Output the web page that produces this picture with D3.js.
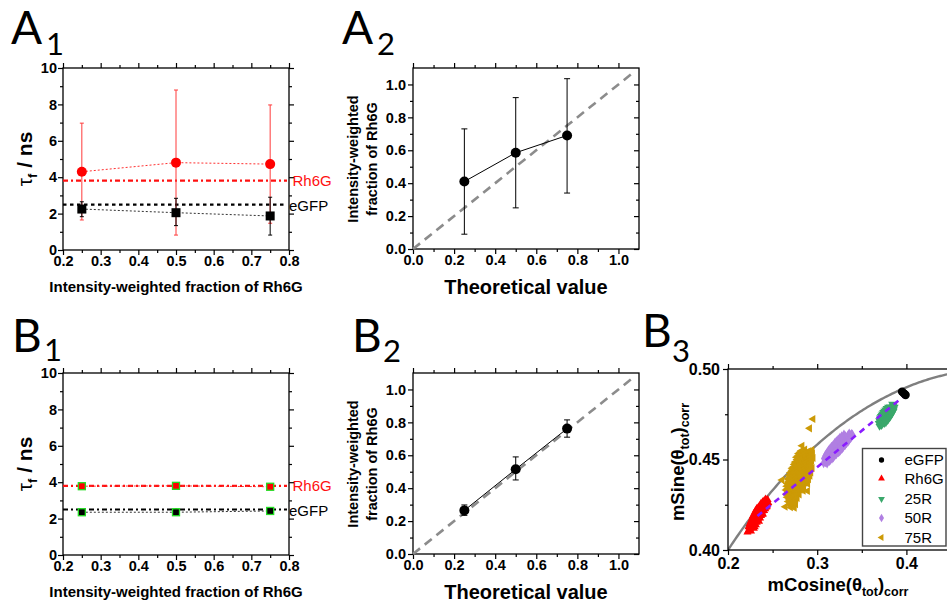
<!DOCTYPE html>
<html>
<head>
<meta charset="utf-8">
<script src="https://cdn.jsdelivr.net/npm/d3@7"></script>
<style>
  html, body { margin: 0; padding: 0; background: #fff; }
  svg { display: block; }
</style>
</head>
<body>
<script>
// ---------- data ----------
// fraction of Rh6G in the mixtures
const mixFraction = [0.25, 0.5, 0.75];

// A1: fitted lifetimes (ns) with error limits
const a1Rh6G   = [4.30, 4.80, 4.72];
const a1Rh6GLo = [1.65, 0.82, 1.47];
const a1Rh6GHi = [6.97, 8.79, 7.97];
const a1EGFP   = [2.25, 2.05, 1.87];
const a1EGFPLo = [1.83, 1.34, 0.82];
const a1EGFPHi = [2.65, 2.84, 2.90];
const a1RefRh6G = 3.81;
const a1RefEGFP = 2.49;

// B1: fitted lifetimes (ns) with error limits
const b1Rh6G   = [3.78, 3.80, 3.75];
const b1Rh6GLo = [3.68, 3.68, 3.60];
const b1Rh6GHi = [3.88, 3.92, 3.90];
const b1EGFP   = [2.35, 2.35, 2.42];
const b1EGFPLo = [2.27, 2.25, 2.27];
const b1EGFPHi = [2.43, 2.45, 2.57];
const b1RefRh6G = 3.80;
const b1RefEGFP = 2.50;

// A2 / B2: recovered intensity-weighted fraction vs theoretical value
const a2Frac   = [0.41, 0.585, 0.69];
const a2FracLo = [0.09, 0.25, 0.34];
const a2FracHi = [0.73, 0.92, 1.035];
const b2Frac   = [0.265, 0.515, 0.762];
const b2FracLo = [0.235, 0.45, 0.71];
const b2FracHi = [0.298, 0.59, 0.815];
const identityEnd = 1.06;

// B3: phasor clouds [mCosine, mSine]
const phEGFP = [[0.3951,0.4875],[0.3965,0.4868],[0.3980,0.4862],[0.3991,0.4856]];
const phRh6G = [
  [0.2218,0.4098],[0.2236,0.4112],[0.2258,0.4104],
  [0.2230,0.4128],[0.2251,0.4122],[0.2274,0.4131],[0.2290,0.4119],
  [0.2243,0.4146],[0.2266,0.4141],[0.2289,0.4150],[0.2313,0.4139],
  [0.2260,0.4163],[0.2283,0.4170],[0.2306,0.4160],[0.2331,0.4168],[0.2348,0.4158],
  [0.2279,0.4188],[0.2302,0.4180],[0.2328,0.4191],[0.2352,0.4182],[0.2371,0.4189],
  [0.2298,0.4206],[0.2324,0.4211],[0.2347,0.4201],[0.2376,0.4209],[0.2392,0.4198],
  [0.2322,0.4228],[0.2349,0.4222],[0.2374,0.4230],[0.2398,0.4219],[0.2418,0.4227],
  [0.2353,0.4243],[0.2377,0.4249],[0.2401,0.4240],[0.2424,0.4251],[0.2438,0.4242],
  [0.2388,0.4266],[0.2410,0.4260],[0.2433,0.4268],[0.2452,0.4262],
  [0.2420,0.4281],[0.2444,0.4278],
  [0.2228,0.4105],[0.2247,0.4116],
  [0.2240,0.4135],[0.2262,0.4134],[0.2282,0.4136],[0.2300,0.4128],
  [0.2254,0.4155],[0.2277,0.4156],[0.2300,0.4154],[0.2322,0.4152],
  [0.2270,0.4176],[0.2294,0.4175],[0.2318,0.4177],[0.2340,0.4174],[0.2360,0.4176],
  [0.2290,0.4196],[0.2314,0.4195],[0.2338,0.4197],[0.2363,0.4194],[0.2382,0.4196],
  [0.2310,0.4218],[0.2336,0.4216],[0.2360,0.4218],[0.2386,0.4215],[0.2405,0.4217],
  [0.2340,0.4236],[0.2364,0.4235],[0.2389,0.4237],[0.2412,0.4234],[0.2430,0.4236],
  [0.2370,0.4257],[0.2398,0.4255],[0.2421,0.4257],[0.2444,0.4256],
  [0.2405,0.4272],[0.2431,0.4274]
];
const ph25R = [
  [0.3699,0.4684],[0.3719,0.4688],
  [0.3701,0.4702],[0.3717,0.4697],[0.3739,0.4703],
  [0.3711,0.4716],[0.3733,0.4712],[0.3751,0.4718],[0.3769,0.4713],
  [0.3727,0.4731],[0.3751,0.4727],[0.3769,0.4733],[0.3789,0.4728],
  [0.3747,0.4746],[0.3769,0.4742],[0.3791,0.4748],[0.3807,0.4743],
  [0.3767,0.4761],[0.3791,0.4757],[0.3809,0.4763],[0.3824,0.4758],
  [0.3789,0.4776],[0.3813,0.4772],[0.3831,0.4778],[0.3844,0.4773],
  [0.3816,0.4791],[0.3835,0.4788],[0.3854,0.4792],
  [0.3841,0.4806],[0.3858,0.4803],
  [0.3709,0.4693],[0.3728,0.4694],
  [0.3720,0.4708],[0.3742,0.4707],[0.3760,0.4709],
  [0.3738,0.4722],[0.3760,0.4721],[0.3780,0.4723],
  [0.3758,0.4737],[0.3780,0.4736],[0.3798,0.4738],
  [0.3778,0.4752],[0.3800,0.4751],[0.3816,0.4753],
  [0.3800,0.4767],[0.3822,0.4766],[0.3836,0.4768],
  [0.3824,0.4782],[0.3845,0.4783],
  [0.3848,0.4797],
  [0.3690,0.4700],[0.3752,0.4699],
  [0.3695,0.4715],[0.3785,0.4716],
  [0.3705,0.4730],[0.3808,0.4731],
  [0.3722,0.4745],[0.3828,0.4746],
  [0.3740,0.4760],[0.3845,0.4761],
  [0.3765,0.4775],[0.3858,0.4776],
  [0.3795,0.4790],[0.3868,0.4789],
  [0.3714,0.4738],[0.3731,0.4752],[0.3752,0.4767],[0.3778,0.4783],
  [0.3770,0.4704],[0.3796,0.4720],[0.3818,0.4735],[0.3838,0.4752],[0.3856,0.4767]
];
const ph50R = [
  [0.3072,0.4480],[0.3093,0.4485],[0.3111,0.4479],
  [0.3086,0.4502],[0.3104,0.4497],[0.3127,0.4503],[0.3146,0.4498],
  [0.3109,0.4519],[0.3133,0.4514],[0.3156,0.4521],[0.3177,0.4515],
  [0.3139,0.4538],[0.3166,0.4533],[0.3187,0.4539],[0.3211,0.4534],[0.3226,0.4540],
  [0.3171,0.4556],[0.3199,0.4551],[0.3219,0.4557],[0.3245,0.4552],[0.3261,0.4558],
  [0.3206,0.4574],[0.3229,0.4569],[0.3256,0.4575],[0.3277,0.4570],[0.3293,0.4576],
  [0.3241,0.4592],[0.3266,0.4587],[0.3287,0.4593],[0.3313,0.4588],[0.3326,0.4594],
  [0.3279,0.4610],[0.3301,0.4605],[0.3321,0.4611],[0.3346,0.4606],
  [0.3317,0.4628],[0.3341,0.4623],[0.3363,0.4629],[0.3377,0.4624],
  [0.3359,0.4643],[0.3384,0.4640],
  [0.3082,0.4491],[0.3116,0.4490],[0.3136,0.4492],
  [0.3098,0.4510],[0.3120,0.4509],[0.3142,0.4511],[0.3165,0.4510],
  [0.3124,0.4528],[0.3149,0.4527],[0.3172,0.4529],[0.3196,0.4528],
  [0.3155,0.4547],[0.3180,0.4546],[0.3205,0.4548],[0.3230,0.4547],[0.3248,0.4546],
  [0.3188,0.4565],[0.3212,0.4564],[0.3237,0.4566],[0.3262,0.4565],[0.3280,0.4564],
  [0.3222,0.4583],[0.3248,0.4582],[0.3272,0.4584],[0.3296,0.4583],[0.3312,0.4582],
  [0.3260,0.4601],[0.3284,0.4600],[0.3308,0.4602],[0.3333,0.4601],
  [0.3300,0.4619],[0.3328,0.4618],[0.3352,0.4620],
  [0.3348,0.4635],[0.3372,0.4634],
  [0.3075,0.4505],[0.3165,0.4504],
  [0.3090,0.4520],[0.3195,0.4521],
  [0.3115,0.4540],[0.3240,0.4541],
  [0.3145,0.4560],[0.3275,0.4559],
  [0.3180,0.4580],[0.3310,0.4579],
  [0.3215,0.4600],[0.3345,0.4599],
  [0.3255,0.4620],[0.3375,0.4619],
  [0.3300,0.4638],[0.3395,0.4637],
  [0.3103,0.4531],[0.3128,0.4550],[0.3160,0.4570],[0.3196,0.4590],[0.3236,0.4610],[0.3275,0.4628],
  [0.3180,0.4512],[0.3214,0.4530],[0.3258,0.4550],[0.3292,0.4570],[0.3328,0.4590],[0.3360,0.4610]
];
const ph75R = [
  [0.2822,0.4548],[0.2861,0.4555],[0.2903,0.4546],[0.2941,0.4553],
  [0.2791,0.4532],[0.2829,0.4526],[0.2872,0.4534],[0.2908,0.4527],[0.2948,0.4535],
  [0.2768,0.4512],[0.2806,0.4507],[0.2846,0.4514],[0.2884,0.4505],[0.2926,0.4513],[0.2954,0.4508],
  [0.2759,0.4488],[0.2796,0.4494],[0.2831,0.4486],[0.2869,0.4492],[0.2906,0.4485],[0.2939,0.4493],
  [0.2744,0.4472],[0.2781,0.4466],[0.2816,0.4474],[0.2851,0.4468],[0.2889,0.4475],[0.2931,0.4467],
  [0.2719,0.4452],[0.2756,0.4446],[0.2791,0.4454],[0.2829,0.4448],[0.2871,0.4455],[0.2904,0.4447],[0.2944,0.4453],
  [0.2701,0.4428],[0.2739,0.4434],[0.2776,0.4426],[0.2814,0.4433],[0.2856,0.4427],[0.2894,0.4435],[0.2929,0.4428],
  [0.2686,0.4412],[0.2724,0.4406],[0.2761,0.4414],[0.2801,0.4407],[0.2839,0.4413],[0.2881,0.4405],[0.2919,0.4411],
  [0.2674,0.4392],[0.2711,0.4386],[0.2749,0.4394],[0.2791,0.4387],[0.2829,0.4393],[0.2871,0.4386],[0.2904,0.4391],
  [0.2666,0.4368],[0.2701,0.4374],[0.2739,0.4366],[0.2781,0.4373],[0.2819,0.4367],[0.2861,0.4372],[0.2894,0.4366],
  [0.2659,0.4352],[0.2696,0.4346],[0.2736,0.4354],[0.2774,0.4347],[0.2816,0.4353],[0.2849,0.4346],
  [0.2651,0.4332],[0.2689,0.4326],[0.2731,0.4334],[0.2769,0.4327],[0.2809,0.4333],[0.2844,0.4328],
  [0.2656,0.4308],[0.2691,0.4313],[0.2724,0.4306],[0.2766,0.4312],[0.2799,0.4307],
  [0.2664,0.4291],[0.2701,0.4286],[0.2739,0.4292],[0.2776,0.4287],
  [0.2676,0.4268],[0.2709,0.4273],[0.2751,0.4267],
  [0.2689,0.4252],[0.2726,0.4247],[0.2759,0.4253],
  [0.2701,0.4236],[0.2744,0.4233],
  [0.2808,0.4540],[0.2848,0.4541],[0.2885,0.4540],[0.2926,0.4542],
  [0.2785,0.4520],[0.2826,0.4521],[0.2866,0.4519],[0.2905,0.4522],[0.2940,0.4520],
  [0.2775,0.4500],[0.2813,0.4501],[0.2851,0.4499],[0.2888,0.4502],[0.2922,0.4500],
  [0.2752,0.4480],[0.2799,0.4481],[0.2834,0.4479],[0.2870,0.4482],[0.2912,0.4480],
  [0.2738,0.4460],[0.2773,0.4461],[0.2810,0.4459],[0.2850,0.4462],[0.2888,0.4460],[0.2925,0.4461],
  [0.2720,0.4440],[0.2758,0.4441],[0.2795,0.4439],[0.2835,0.4442],[0.2875,0.4440],[0.2912,0.4441],
  [0.2705,0.4420],[0.2742,0.4421],[0.2781,0.4419],[0.2820,0.4422],[0.2860,0.4420],[0.2900,0.4421],
  [0.2692,0.4400],[0.2730,0.4401],[0.2770,0.4399],[0.2810,0.4402],[0.2850,0.4400],[0.2888,0.4401],
  [0.2683,0.4380],[0.2720,0.4381],[0.2760,0.4379],[0.2800,0.4382],[0.2840,0.4380],[0.2878,0.4381],
  [0.2678,0.4360],[0.2716,0.4361],[0.2755,0.4359],[0.2795,0.4362],[0.2832,0.4360],
  [0.2670,0.4340],[0.2710,0.4341],[0.2750,0.4339],[0.2790,0.4342],[0.2826,0.4340],
  [0.2672,0.4320],[0.2708,0.4321],[0.2745,0.4319],[0.2783,0.4322],
  [0.2682,0.4300],[0.2720,0.4298],[0.2756,0.4300],
  [0.2690,0.4280],[0.2725,0.4279],[0.2760,0.4281],
  [0.2700,0.4260],[0.2740,0.4261],
  [0.2953,0.4724],[0.2915,0.4672],[0.2830,0.4576],[0.2605,0.4387],[0.2642,0.4239],[0.2892,0.4326]
];
// two-component mixing line, Rh6G -> eGFP
const mixLine = [[0.2330, 0.4188], [0.3988, 0.4856]];
const legendNames = ["eGFP", "Rh6G", "25R", "50R", "75R"];

// tick values
const ticksFracMajor = [0.2, 0.3, 0.4, 0.5, 0.6, 0.7, 0.8];
const ticksFracMinor = [0.25, 0.35, 0.45, 0.55, 0.65, 0.75];
const ticksTauMajor  = [0, 2, 4, 6, 8, 10];
const ticksTauMinor  = [1, 3, 5, 7, 9];
const ticksUnitMajor = [0.0, 0.2, 0.4, 0.6, 0.8, 1.0];
const ticksUnitMinor = [0.1, 0.3, 0.5, 0.7, 0.9];
const ticksCosMajor  = [0.2, 0.3, 0.4];
const ticksCosMinor  = [0.25, 0.35, 0.45];
const ticksSinMajor  = [0.40, 0.45, 0.50];
const ticksSinMinor  = [0.425, 0.475];

// ---------- drawing ----------
const W = 947, H = 604;
const SANS = "'Liberation Sans', Arial, sans-serif";
const svg = d3.select("body").append("svg").attr("width", W).attr("height", H);
svg.append("rect").attr("width", W).attr("height", H).attr("fill", "#fff");

function drawFrame(g, x, y, o) {
  const [xl, xr] = x.range();
  const [yb, yt] = y.range();
  const M = 5, m = 3;
  function put(axisFn, scale, vals, size, pad, fmt, tr) {
    const a = axisFn(scale).tickValues(vals).tickSizeInner(size).tickSizeOuter(0)
      .tickPadding(pad).tickFormat(fmt || "");
    const s = g.append("g").attr("transform", tr).call(a);
    s.select(".domain").remove();
    s.selectAll("line").attr("stroke", "#000").attr("stroke-width", 1.2);
    s.selectAll("text").attr("font-family", SANS).attr("font-weight", "bold")
      .attr("font-size", o.fs).attr("fill", "#000");
    return s;
  }
  put(d3.axisBottom, x, o.xMinor, m, 0, null, `translate(0,${yb})`);
  put(d3.axisBottom, x, o.xMajor, M, o.xPad, o.xFmt, `translate(0,${yb})`);
  put(d3.axisTop, x, o.xMinor, m, 0, null, `translate(0,${yt})`);
  put(d3.axisTop, x, o.xMajor, M, 0, null, `translate(0,${yt})`);
  put(d3.axisLeft, y, o.yMinor, m, 0, null, `translate(${xl},0)`);
  put(d3.axisLeft, y, o.yMajor, M, o.yPad, o.yFmt, `translate(${xl},0)`);
  const rs = o.rightIn ? -1 : 1;
  put(d3.axisRight, y, o.yMinor, rs * m, 0, null, `translate(${xr},0)`);
  put(d3.axisRight, y, o.yMajor, rs * M, 0, null, `translate(${xr},0)`);
  g.append("rect").attr("x", xl).attr("y", yt).attr("width", xr - xl).attr("height", yb - yt)
    .attr("fill", "none").attr("stroke", "#000").attr("stroke-width", 1.3);
}

function panelLabel(letter, sub, x, y, subDx, subDy) {
  const t = svg.append("text").attr("x", x).attr("y", y)
    .attr("font-family", "Lato, 'Open Sans', sans-serif").attr("font-size", 46).attr("fill", "#000");
  t.append("tspan").text(letter);
  t.append("tspan").attr("x", x + subDx).attr("dy", subDy).attr("font-size", 31).text(sub);
}

function errorBars(g, x, y, xs, lo, hi, color, cap, width) {
  xs.forEach((v, i) => {
    g.append("line").attr("x1", x(v)).attr("x2", x(v)).attr("y1", y(lo[i])).attr("y2", y(hi[i]))
      .attr("stroke", color).attr("stroke-width", width);
    [lo[i], hi[i]].forEach(e => g.append("line")
      .attr("x1", x(v) - cap).attr("x2", x(v) + cap).attr("y1", y(e)).attr("y2", y(e))
      .attr("stroke", color).attr("stroke-width", width));
  });
}

function tauTitle(cx, cy) {
  const t = svg.append("text").attr("transform", `translate(${cx},${cy}) rotate(-90)`)
    .attr("text-anchor", "middle").attr("font-family", SANS).attr("font-size", 21).attr("fill", "#000");
  t.append("tspan").text("τ");
  t.append("tspan").attr("dy", 5).attr("font-size", 13).attr("font-weight", "bold").text("f");
  t.append("tspan").attr("dy", -5).attr("font-weight", "bold").text(" / ns");
}

function fracTitle(cx, cy) {
  const t = svg.append("text").attr("transform", `translate(${cx},${cy}) rotate(-90)`)
    .attr("text-anchor", "middle").attr("font-family", SANS).attr("font-weight", "bold")
    .attr("font-size", 14.5).attr("fill", "#000");
  t.append("tspan").attr("x", 0).attr("y", 0).text("Intensity-weighted");
  t.append("tspan").attr("x", 0).attr("y", 19).text("fraction of Rh6G");
}

function bottomTitle(text, cx, y, fs) {
  svg.append("text").attr("x", cx).attr("y", y).attr("text-anchor", "middle")
    .attr("font-family", SANS).attr("font-weight", "bold").attr("font-size", fs).attr("fill", "#000").text(text);
}

// ----- lifetime panels (A1, B1) -----
function lifetimePanel(top, d) {
  const g = svg.append("g");
  const x = d3.scaleLinear().domain([0.2, 0.8]).range([63, 289]);
  const y = d3.scaleLinear().domain([0, 10]).range([top + 182, top]);
  drawFrame(g, x, y, { xMajor: ticksFracMajor, xMinor: ticksFracMinor, yMajor: ticksTauMajor,
    yMinor: ticksTauMinor, xFmt: d3.format(".1f"), yFmt: d3.format("d"), fs: 14.5, xPad: 1, yPad: 1 });

  // reference lifetimes of the pure dyes
  g.append("line").attr("x1", 63).attr("x2", 287).attr("y1", y(d.refR)).attr("y2", y(d.refR))
    .attr("stroke", "#ff1010").attr("stroke-width", 2.2).attr("stroke-dasharray", "5,3,2,3");
  g.append("line").attr("x1", 63).attr("x2", 287).attr("y1", y(d.refE)).attr("y2", y(d.refE))
    .attr("stroke", "#000").attr("stroke-width", 2.2).attr("stroke-dasharray", d.eDash);
  svg.append("text").attr("x", 292.5).attr("y", y(d.refR)).attr("dy", "0.36em")
    .attr("font-family", SANS).attr("font-size", 15).attr("fill", "#ff1010").text("Rh6G");
  svg.append("text").attr("x", 289).attr("y", y(d.refE) + 1).attr("dy", "0.36em")
    .attr("font-family", SANS).attr("font-size", 15).attr("fill", "#000").text("eGFP");

  const line = d3.line().x((v, i) => x(mixFraction[i])).y(v => y(v));
  g.append("path").attr("d", line(d.r)).attr("fill", "none").attr("stroke", "#ff3030")
    .attr("stroke-width", 1).attr("stroke-dasharray", "2,2");
  g.append("path").attr("d", line(d.e)).attr("fill", "none").attr("stroke", "#333")
    .attr("stroke-width", 1).attr("stroke-dasharray", "2,2");

  errorBars(g, x, y, mixFraction, d.rLo, d.rHi, d.rErr, 2, 1);
  errorBars(g, x, y, mixFraction, d.eLo, d.eHi, "#000", 2, 1);

  if (d.style === "A") {
    g.selectAll(".pr").data(d.r).join("circle").attr("cx", (v, i) => x(mixFraction[i])).attr("cy", v => y(v))
      .attr("r", 5).attr("fill", "#ff0000");
    g.selectAll(".pe").data(d.e).join("rect").attr("x", (v, i) => x(mixFraction[i]) - 4.5)
      .attr("y", v => y(v) - 4.5).attr("width", 9).attr("height", 9).attr("fill", "#000");
  } else {
    g.selectAll(".pr").data(d.r).join("rect").attr("x", (v, i) => x(mixFraction[i]) - 3.5)
      .attr("y", v => y(v) - 3.5).attr("width", 7).attr("height", 7)
      .attr("fill", "#ff0000").attr("stroke", "#22dd22").attr("stroke-width", 1.3);
    g.selectAll(".pe").data(d.e).join("rect").attr("x", (v, i) => x(mixFraction[i]) - 3.5)
      .attr("y", v => y(v) - 3.5).attr("width", 7).attr("height", 7)
      .attr("fill", "#000").attr("stroke", "#22dd22").attr("stroke-width", 1.3);
  }
  tauTitle(32, top + 91);
}

lifetimePanel(68, { r: a1Rh6G, rLo: a1Rh6GLo, rHi: a1Rh6GHi, e: a1EGFP, eLo: a1EGFPLo, eHi: a1EGFPHi,
  refR: a1RefRh6G, refE: a1RefEGFP, rErr: "#ff3a3a", eDash: "3.5,3.5", style: "A" });
bottomTitle("Intensity-weighted fraction of Rh6G", 176, 292, 15);

lifetimePanel(373, { r: b1Rh6G, rLo: b1Rh6GLo, rHi: b1Rh6GHi, e: b1EGFP, eLo: b1EGFPLo, eHi: b1EGFPHi,
  refR: b1RefRh6G, refE: b1RefEGFP, rErr: "#ff0000", eDash: "5,3,2,3", style: "B" });
bottomTitle("Intensity-weighted fraction of Rh6G", 176, 597, 15);

// ----- fraction recovery panels (A2, B2) -----
function fractionPanel(top, vals, lo, hi, cap) {
  const g = svg.append("g");
  const x = d3.scaleLinear().domain([0, 1.1]).range([413, 639]);
  const y = d3.scaleLinear().domain([0, 1.1]).range([top + 181, top]);
  drawFrame(g, x, y, { xMajor: ticksUnitMajor, xMinor: ticksUnitMinor,
    yMajor: ticksUnitMajor, yMinor: ticksUnitMinor,
    xFmt: d3.format(".1f"), yFmt: d3.format(".1f"), fs: 14.5, xPad: 1, yPad: 2, rightIn: true });
  g.append("line").attr("x1", x(0)).attr("y1", y(0)).attr("x2", x(identityEnd)).attr("y2", y(identityEnd))
    .attr("stroke", "#8c8c8c").attr("stroke-width", 2.6).attr("stroke-dasharray", "9,6");
  const line = d3.line().x((v, i) => x(mixFraction[i])).y(v => y(v));
  g.append("path").attr("d", line(vals)).attr("fill", "none").attr("stroke", "#000").attr("stroke-width", 1);
  errorBars(g, x, y, mixFraction, lo, hi, "#000", cap, 1);
  g.selectAll(".p").data(vals).join("circle").attr("cx", (v, i) => x(mixFraction[i])).attr("cy", v => y(v))
    .attr("r", 5).attr("fill", "#000");
  fracTitle(358, top + 91);
}
fractionPanel(68, a2Frac, a2FracLo, a2FracHi, 3);
bottomTitle("Theoretical value", 526, 294, 20);
fractionPanel(373, b2Frac, b2FracLo, b2FracHi, 3);
bottomTitle("Theoretical value", 526, 599, 20);

// ----- phasor panel (B3) -----
(function () {
  const g = svg.append("g");
  const x = d3.scaleLinear().domain([0.2, 0.45]).range([728, 951]);
  const y = d3.scaleLinear().domain([0.40, 0.50]).range([550, 369]);
  svg.append("clipPath").attr("id", "b3clip").append("rect")
    .attr("x", 728).attr("y", 369).attr("width", 223).attr("height", 181);
  const plot = g.append("g").attr("clip-path", "url(#b3clip)");

  // universal semicircle (g - 1/2)^2 + s^2 = 1/4
  const gs = d3.range(0.2, 0.5001, 0.002);
  const arc = d3.line().x(v => x(v)).y(v => y(Math.sqrt(0.25 - (v - 0.5) * (v - 0.5))));
  plot.append("path").attr("d", arc(gs)).attr("fill", "none").attr("stroke", "#7f7f7f").attr("stroke-width", 2.4);

  const sym = (type, size) => d3.symbol().type(type).size(size)();
  const clouds = [
    { pts: ph75R, color: "#cc9a06", type: d3.symbolTriangle, rot: -90, size: 28 },
    { pts: phRh6G, color: "#ff0000", type: d3.symbolTriangle, rot: 0, size: 28 },
    { pts: ph50R, color: "#b07fe2", type: d3.symbolDiamond, rot: 0, size: 30 },
    { pts: ph25R, color: "#3aa86b", type: d3.symbolTriangle, rot: 180, size: 28 }
  ];
  clouds.forEach(c => {
    plot.append("g").selectAll("path").data(c.pts).join("path")
      .attr("d", sym(c.type, c.size))
      .attr("transform", p => `translate(${x(p[0])},${y(p[1])}) rotate(${c.rot})`)
      .attr("fill", c.color);
  });
  plot.append("line").attr("x1", x(mixLine[0][0])).attr("y1", y(mixLine[0][1]))
    .attr("x2", x(mixLine[1][0])).attr("y2", y(mixLine[1][1]))
    .attr("stroke", "#8a1cff").attr("stroke-width", 2.6).attr("stroke-dasharray", "6,5");
  plot.append("g").selectAll("circle").data(phEGFP).join("circle")
    .attr("cx", p => x(p[0])).attr("cy", p => y(p[1])).attr("r", 4.2).attr("fill", "#000");

  drawFrame(g, x, y, { xMajor: ticksCosMajor, xMinor: ticksCosMinor, yMajor: ticksSinMajor,
    yMinor: ticksSinMinor, xFmt: d3.format(".1f"), yFmt: d3.format(".2f"), fs: 16, xPad: 3, yPad: 3 });

  // legend
  const lg = svg.append("g");
  lg.append("rect").attr("x", 862.5).attr("y", 448.5).attr("width", 83.5).attr("height", 97.5)
    .attr("fill", "#fff").attr("stroke", "#444").attr("stroke-width", 1.4);
  const legendSym = [
    { color: "#000", type: d3.symbolCircle, rot: 0, size: 22 },
    { color: "#ff0000", type: d3.symbolTriangle, rot: 0, size: 20 },
    { color: "#3aa86b", type: d3.symbolTriangle, rot: 180, size: 20 },
    { color: "#b07fe2", type: d3.symbolDiamond, rot: 0, size: 22 },
    { color: "#cc9a06", type: d3.symbolTriangle, rot: -90, size: 20 }
  ];
  const rows = [460, 478.5, 499, 518, 537.5];
  legendNames.forEach((name, i) => {
    const s = legendSym[i];
    lg.append("path").attr("d", sym(s.type, s.size))
      .attr("transform", `translate(881.5,${rows[i]}) rotate(${s.rot})`).attr("fill", s.color);
    lg.append("text").attr("x", 904.5).attr("y", rows[i]).attr("dy", "0.36em")
      .attr("font-family", SANS).attr("font-size", 15).attr("fill", "#000").text(name);
  });

  // axis titles
  const xt = svg.append("text").attr("x", 838).attr("y", 591).attr("text-anchor", "middle")
    .attr("font-family", SANS).attr("font-weight", "bold").attr("font-size", 18.5).attr("fill", "#000");
  xt.append("tspan").text("mCosine(θ");
  xt.append("tspan").attr("dy", 5).attr("font-size", 12.5).text("tot");
  xt.append("tspan").attr("dy", -5).text(")");
  xt.append("tspan").attr("dy", 5).attr("font-size", 12.5).text("corr");

  const yt = svg.append("text").attr("transform", "translate(684,462) rotate(-90)").attr("text-anchor", "middle")
    .attr("font-family", SANS).attr("font-weight", "bold").attr("font-size", 18.5).attr("fill", "#000");
  yt.append("tspan").text("mSine(θ");
  yt.append("tspan").attr("dy", 5).attr("font-size", 12.5).text("tot");
  yt.append("tspan").attr("dy", -5).text(")");
  yt.append("tspan").attr("dy", 5).attr("font-size", 12.5).text("corr");
})();

// ----- panel letters -----
panelLabel("A", "1", 11, 44, 35, 11);
panelLabel("A", "2", 342, 44, 35, 11);
panelLabel("B", "1", 12, 352, 32, 9);
panelLabel("B", "2", 352, 352, 31, 10);
panelLabel("B", "3", 642, 347, 30, 15);
</script>
</body>
</html>
